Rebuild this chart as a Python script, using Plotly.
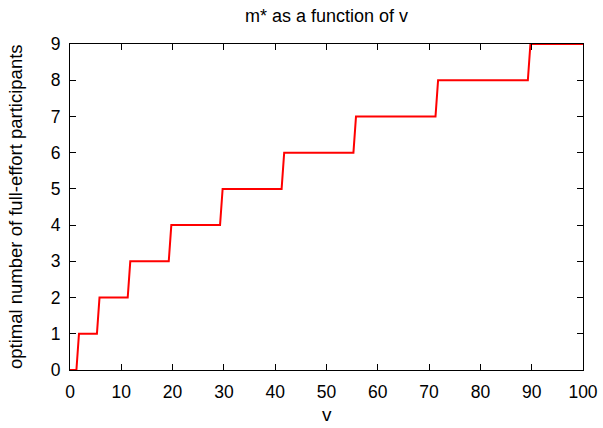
import plotly.graph_objects as go

# Step function data: v values and optimal m*
v_vals = [0, 1.25, 1.75, 5.25, 5.75, 11.25, 11.75, 19.25, 19.75, 29.25, 29.75,
          41.25, 41.75, 55.25, 55.75, 71.25, 71.75, 89.25, 89.75, 100]
m_vals = [0, 0, 1, 1, 2, 2, 3, 3, 4, 4, 5, 5, 6, 6, 7, 7, 8, 8, 9, 9]

x_ticks = [0, 10, 20, 30, 40, 50, 60, 70, 80, 90, 100]
y_ticks = [0, 1, 2, 3, 4, 5, 6, 7, 8, 9]

title_text = "m* as a function of v"
x_title = "v"
y_title = "optimal number of full-effort participants"

FONT = "Liberation Sans, Arial, Helvetica, sans-serif"
W, H = 603, 428
ML, MR, MT, MB = 70, 20, 44, 58

fig = go.Figure()
fig.add_trace(go.Scatter(
    x=v_vals, y=m_vals, mode="lines",
    line=dict(color="#ff0000", width=2),
    showlegend=False, hoverinfo="skip",
))

axis_common = dict(
    showline=True, linecolor="black", linewidth=1, mirror="ticks",
    ticks="inside", ticklen=6, tickwidth=1, tickcolor="black",
    showgrid=False, zeroline=False, automargin=False,
    tickfont=dict(family=FONT, size=17.5, color="black"),
)

fig.update_layout(
    width=W, height=H,
    margin=dict(l=ML, r=MR, t=MT, b=MB, pad=0),
    paper_bgcolor="white", plot_bgcolor="white",
    font=dict(family=FONT, color="black"),
    xaxis=dict(range=[0, 100], tickvals=x_ticks, ticktext=[str(t) for t in x_ticks],
               ticklabelstandoff=6, **axis_common),
    yaxis=dict(range=[0, 9], tickvals=y_ticks, ticktext=[str(t) for t in y_ticks],
               ticklabelstandoff=5, **axis_common),
    annotations=[
        dict(text=title_text, xref="paper", yref="paper", x=0.5, y=1,
             xanchor="center", yanchor="middle", yshift=44 - 16,
             showarrow=False, font=dict(family=FONT, size=18, color="black")),
        dict(text=x_title, xref="paper", yref="paper", x=0.5, y=0,
             xanchor="center", yanchor="bottom", yshift=-(427 - (H - MB)),
             showarrow=False, font=dict(family=FONT, size=19, color="black")),
        dict(text=y_title, xref="paper", yref="paper", x=0, y=0.5,
             xanchor="center", yanchor="middle", xshift=-(ML - 15), textangle=-90,
             showarrow=False, font=dict(family=FONT, size=18.5, color="black")),
    ],
)

fig.write_html("out.html")
